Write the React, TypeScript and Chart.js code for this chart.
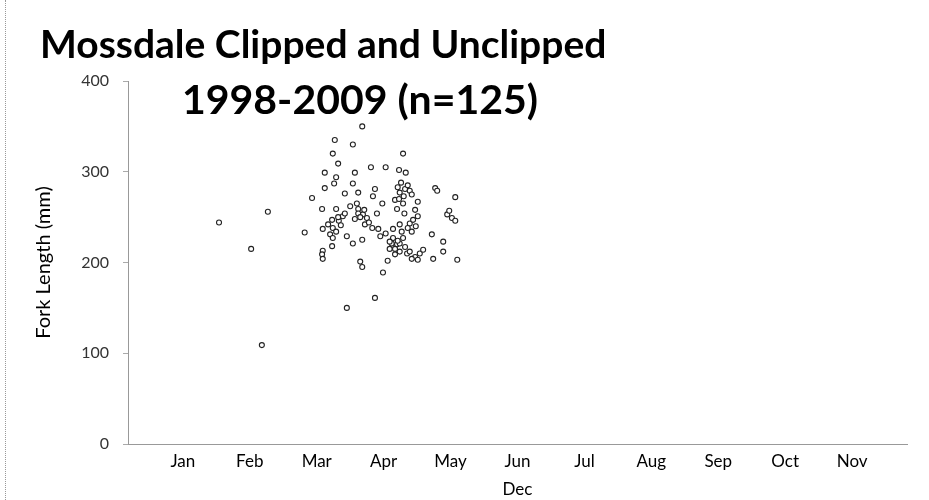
import React, { useEffect, useRef } from "react";
import { Chart, registerables } from "chart.js";

Chart.register(...registerables);

const titleLines = ["Mossdale Clipped and Unclipped", "1998-2009 (n=125)"];
const yAxisTitle = "Fork Length (mm)";
const xAxisTitle = "Dec";
const monthLabels = ["Jan", "Feb", "Mar", "Apr", "May", "Jun", "Jul", "Aug", "Sep", "Oct", "Nov"];
const monthTicks = [1, 2, 3, 4, 5, 6, 7, 8, 9, 10, 11];
const yTicks = [0, 100, 200, 300, 400];

// capture date expressed as month number (1 = Jan label position)
const captureMonth = [
  1.54, 2.27, 2.02, 2.18, 3.27, 3.24, 3.32, 3.12, 3.29, 3.12,
  3.26, 2.93, 3.08, 3.29, 3.68, 3.54, 4.29, 3.57, 3.81, 4.03,
  4.23, 4.33, 3.54, 3.42, 3.62, 3.87, 4.26, 4.32, 4.39, 4.24,
  4.77, 4.80, 5.07, 3.84, 4.17, 4.29, 4.51, 3.98, 3.60, 3.62,
  4.20, 2.82, 3.23, 3.33, 3.24, 3.09, 3.20, 3.24, 3.23, 3.09,
  3.08, 3.09, 3.62, 3.39, 3.57, 3.69, 3.75, 3.72, 3.83, 3.92,
  3.95, 3.90, 4.51, 4.39, 4.42, 4.24, 4.14, 4.27, 4.14, 4.12,
  4.20, 4.24, 4.17, 4.29, 4.95, 5.02, 4.72, 4.89, 4.89, 5.10,
  4.74, 4.54, 4.47, 4.42, 4.35, 4.17, 4.06, 3.45, 3.54, 3.68,
  3.65, 3.68, 3.99, 3.87, 3.45, 4.09, 4.21, 4.32, 4.09, 4.24,
  4.47, 4.44, 4.48, 4.36, 3.65, 3.78, 3.71, 3.32, 3.42, 3.36,
  4.21, 4.30, 4.36, 4.42, 4.23, 4.98, 5.07, 4.39, 4.51, 4.59,
  3.29, 3.17, 4.03, 4.31, 3.50,
];

const forkLengthMm = [
  244, 256, 215, 109, 335, 320, 309, 299, 294, 282,
  287, 271, 259, 259, 350, 330, 320, 299, 305, 305,
  302, 299, 287, 276, 277, 281, 288, 281, 279, 277,
  282, 279, 272, 273, 269, 265, 267, 265, 265, 259,
  259, 233, 247, 246, 238, 237, 231, 227, 218, 213,
  209, 204, 254, 251, 248, 253, 249, 242, 238, 237,
  229, 254, 251, 243, 234, 242, 237, 234, 227, 221,
  220, 221, 215, 227, 253, 249, 231, 223, 212, 203,
  204, 210, 206, 204, 210, 209, 202, 229, 221, 225,
  201, 195, 189, 161, 150, 223, 224, 217, 215, 212,
  258, 247, 240, 238, 250, 244, 258, 250, 254, 241,
  283, 273, 285, 275, 270, 257, 246, 212, 203, 214,
  234, 242, 232, 254, 262,
];

const titlePlugin = {
  id: "overlayTitle",
  afterDraw(chart: any) {
    const ctx = chart.ctx;
    ctx.save();
    ctx.fillStyle = "#000";
    ctx.textBaseline = "alphabetic";
    ctx.textAlign = "left";
    ctx.font = "bold 39px Lato";
    ctx.fillText(titleLines[0], 40, 58);
    ctx.font = "bold 41px Lato";
    ctx.fillText(titleLines[1], 182, 114);
    ctx.restore();
  },
};

export default function App() {
  const canvasRef = useRef<HTMLCanvasElement | null>(null);

  useEffect(() => {
    if (!canvasRef.current) return;
    const points = captureMonth.map((m, i) => ({ x: m, y: forkLengthMm[i] }));
    const chart = new Chart(canvasRef.current, {
      type: "scatter",
      data: {
        datasets: [
          {
            data: points,
            pointRadius: 2.5,
            pointBorderWidth: 1.1,
            borderColor: "#222",
            backgroundColor: "#fff",
            pointStyle: "circle",
          },
        ],
      },
      options: {
        responsive: false,
        animation: false,
        layout: { padding: { left: 30, right: 22, top: 81, bottom: 0 } },
        plugins: {
          legend: { display: false },
          tooltip: { enabled: false },
          title: { display: false },
        },
        scales: {
          x: {
            type: "linear",
            min: 0.18,
            max: 11.82,
            afterBuildTicks: (scale: any) => {
              scale.ticks = monthTicks.map((v) => ({ value: v }));
            },
            afterFit: (scale: any) => {
              scale.height = 56;
            },
            ticks: {
              callback: (v: any) => monthLabels[monthTicks.indexOf(Number(v))] ?? "",
              font: { family: "Lato", size: 17 },
              color: "#000",
              padding: 7,
              maxRotation: 0,
              autoSkip: false,
            },
            grid: { display: false, drawTicks: false },
            border: { display: true, color: "#999", width: 1, dash: [1, 2] },
            title: {
              display: true,
              text: xAxisTitle,
              font: { family: "Lato", size: 17 },
              color: "#000",
              padding: { top: 0, bottom: 0 },
            },
          },
          y: {
            type: "linear",
            min: 0,
            max: 400,
            afterBuildTicks: (scale: any) => {
              scale.ticks = yTicks.map((v) => ({ value: v }));
            },
            afterFit: (scale: any) => {
              scale.width = 98;
            },
            ticks: {
              font: { family: "Lato", size: 16 },
              color: "#333",
              padding: 14,
            },
            grid: {
              display: true,
              drawOnChartArea: false,
              drawTicks: true,
              tickLength: 5,
              color: "#aaa",
            },
            border: { display: true, color: "#999", width: 1, dash: [1, 2] },
            title: {
              display: true,
              text: yAxisTitle,
              font: { family: "Lato", size: 20 },
              color: "#000",
              padding: { top: 2, bottom: 0 },
            },
          },
        },
      },
      plugins: [titlePlugin],
    });
    return () => chart.destroy();
  }, []);

  return (
    <div style={{ position: "absolute", left: 0, top: 0, width: 929, height: 500, background: "#fff" }}>
      <div
        style={{
          position: "absolute",
          left: 5,
          top: 0,
          height: 500,
          borderLeft: "1px dotted #999",
        }}
      />
      <canvas ref={canvasRef} width={929} height={500} style={{ position: "absolute", left: 0, top: 0 }} />
    </div>
  );
}
